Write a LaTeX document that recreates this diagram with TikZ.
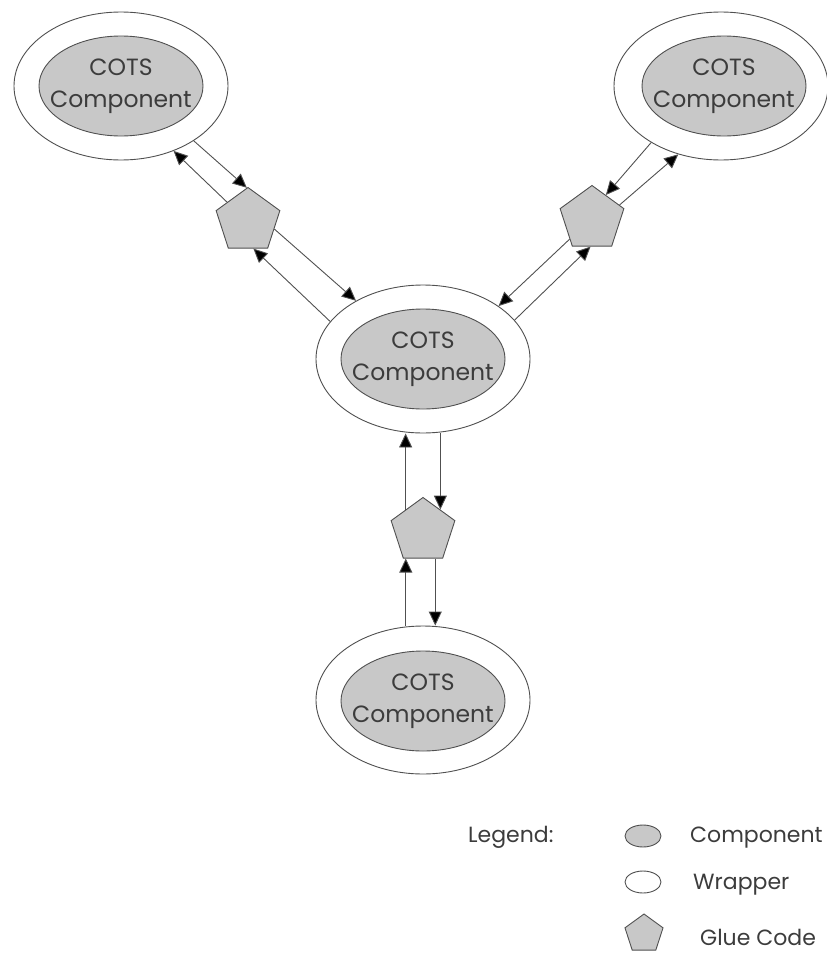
\documentclass[tikz,border=0pt]{standalone}
\usepackage{fontspec}
\setmainfont{Poppins}
\usetikzlibrary{shapes.geometric,arrows.meta}
\definecolor{compfill}{HTML}{C8C8C8}
\definecolor{inkline}{HTML}{505050}
\definecolor{inktext}{HTML}{3C3C3C}
\begin{document}
\begin{tikzpicture}[x=1pt,y=-1pt,
  wrapper/.style={ellipse,draw=inkline,line width=0.9pt,fill=white,
    minimum width=214pt,minimum height=148pt,inner sep=0pt},
  component/.style={ellipse,draw=inkline,line width=0.9pt,fill=compfill,
    minimum width=164pt,minimum height=100pt,inner sep=0pt},
  comptext/.style={font=\fontsize{23.5}{32}\selectfont,text=inktext,
    align=center,inner sep=0pt},
  glue/.style={regular polygon,regular polygon sides=5,draw=inkline,
    line width=0.9pt,fill=compfill,minimum size=67pt,inner sep=0pt},
  arr/.style={draw=inkline,line width=0.9pt,
    -{Triangle[length=14pt,width=13pt,fill=black]}},
  lbl/.style={font=\fontsize{22}{26}\selectfont,text=inktext,
    anchor=base west,inner sep=0pt}]
\useasboundingbox (0,0) rectangle (827,953);

% wrapped COTS components
\node[wrapper] (wtl) at (121,86) {};
\node[component] (ctl) at (121,86) {};
\node[comptext] (ttl) at (ctl) {COTS\\Component};
\node[wrapper] (wtr) at (721,86) {};
\node[component] (ctr) at (724,86) {};
\node[comptext] (ttr) at (ctr) {COTS\\Component};
\node[wrapper] (wmid) at (423,359) {};
\node[component] (cmid) at (423,359) {};
\node[comptext] (tmid) at (cmid) {COTS\\Component};
\node[wrapper] (wbot) at (423,700) {};
\node[component] (cbot) at (423,701) {};
\node[comptext] (tbot) at (cbot) {COTS\\Component};

% glue code
\node[glue] (gtl) at (248,221) {};
\node[glue] (gtr) at (592,219) {};
\node[glue] (gbot) at (423,531) {};

% top-left link
\draw[arr] (wtl.-37) -- (gtl.92);
\draw[arr] (gtl.138) -- (wtl.-51);
\draw[arr] (gtl.-17) -- (wmid.139);
\draw[arr] (wmid.158) -- (gtl.-79);

% top-right link
\draw[arr] (wtr.219) -- (gtr.60);
\draw[arr] (gtr.27) -- (wtr.238.5);
\draw[arr] (gtr.222) -- (wmid.35);
\draw[arr] (wmid.23.6) -- (gtr.267);

% bottom link
\draw[arr] (gbot.129) -- (gbot.129 |- wmid.south);
\draw[arr] (gbot.51 |- wmid.south) -- (gbot.51);
\draw[arr] (gbot.-122 |- wbot.north) -- (gbot.-122);
\draw[arr] (gbot.-66) -- (gbot.-66 |- wbot.north);

% legend
\node[lbl] (legend) at (468,842) {Legend:};
\node[ellipse,draw=inkline,line width=0.9pt,fill=compfill,minimum width=36pt,
  minimum height=22pt,inner sep=0pt] (keycomp) at (643,836) {};
\node[lbl] (keycomptext) at (690,842) {Component};
\node[ellipse,draw=inkline,line width=0.9pt,fill=white,minimum width=36pt,
  minimum height=22pt,inner sep=0pt] (keywrap) at (643,882) {};
\node[lbl] (keywraptext) at (693,889) {Wrapper};
\node[glue,minimum size=40pt] (keyglue) at (644,934) {};
\node[lbl] (keygluetext) at (700,945) {Glue Code};
\end{tikzpicture}
\end{document}
